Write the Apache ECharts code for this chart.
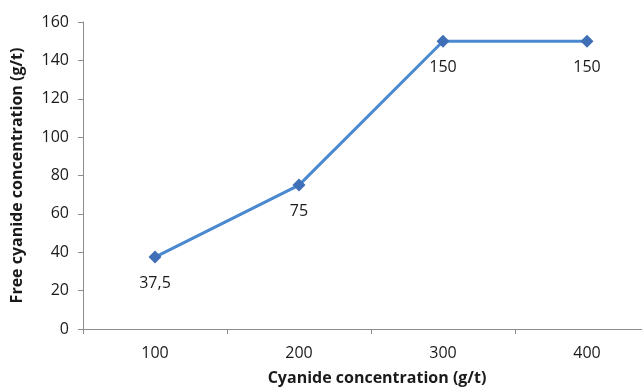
<!DOCTYPE html>
<html><head><meta charset="utf-8">
<script src="https://cdn.jsdelivr.net/npm/echarts@6/dist/echarts.min.js"></script>
<style>html,body{margin:0;padding:0;background:#fff;overflow:hidden}#c{width:642px;height:387px}</style>
</head><body><div id="c"></div>
<script>
const categories = ['100', '200', '300', '400'];
const values = [37.5, 75, 150, 150];
const yTicks = [0, 20, 40, 60, 80, 100, 120, 140, 160];
const xTitle = 'Cyanide concentration (g/t)';
const yTitle = 'Free cyanide concentration (g/t)';

const font = 'Open Sans';
const chart = echarts.init(document.getElementById('c'));
chart.setOption({
  animation: false,
  grid: { left: 83, top: 22, width: 576, height: 307, containLabel: false, outerBoundsMode: 'none' },
  xAxis: {
    type: 'category', data: categories, boundaryGap: true,
    name: xTitle, nameLocation: 'middle', nameGap: 41,
    nameTextStyle: { fontFamily: font, fontWeight: 'bold', fontSize: 16, color: '#1a1a1a', padding: [0, 0, 0, 12] },
    axisLine: { lineStyle: { color: '#8c8c8c', width: 1 } },
    axisTick: { show: true, length: 5, lineStyle: { color: '#8c8c8c' } },
    axisLabel: { fontFamily: font, fontSize: 16, color: '#1a1a1a', margin: 16 }
  },
  yAxis: {
    type: 'value', min: yTicks[0], max: yTicks[yTicks.length - 1], interval: 20,
    name: yTitle, nameLocation: 'middle', nameGap: 58, nameRotate: 90,
    nameTextStyle: { fontFamily: font, fontWeight: 'bold', fontSize: 16, color: '#1a1a1a' },
    axisLine: { show: true, lineStyle: { color: '#8c8c8c', width: 1 } },
    axisTick: { show: true, length: 5, lineStyle: { color: '#8c8c8c' } },
    splitLine: { show: false },
    axisLabel: { fontFamily: font, fontSize: 16, color: '#1a1a1a', margin: 14 }
  },
  series: [{
    type: 'line', data: values,
    symbol: 'diamond', symbolSize: 13,
    itemStyle: { color: '#3f6fb6' },
    lineStyle: { color: '#4a89d0', width: 3 },
    label: {
      show: true, position: 'bottom', distance: 12,
      fontFamily: font, fontSize: 16, color: '#1a1a1a',
      formatter: p => String(p.value).replace('.', ',')
    }
  }]
});
</script></body></html>
